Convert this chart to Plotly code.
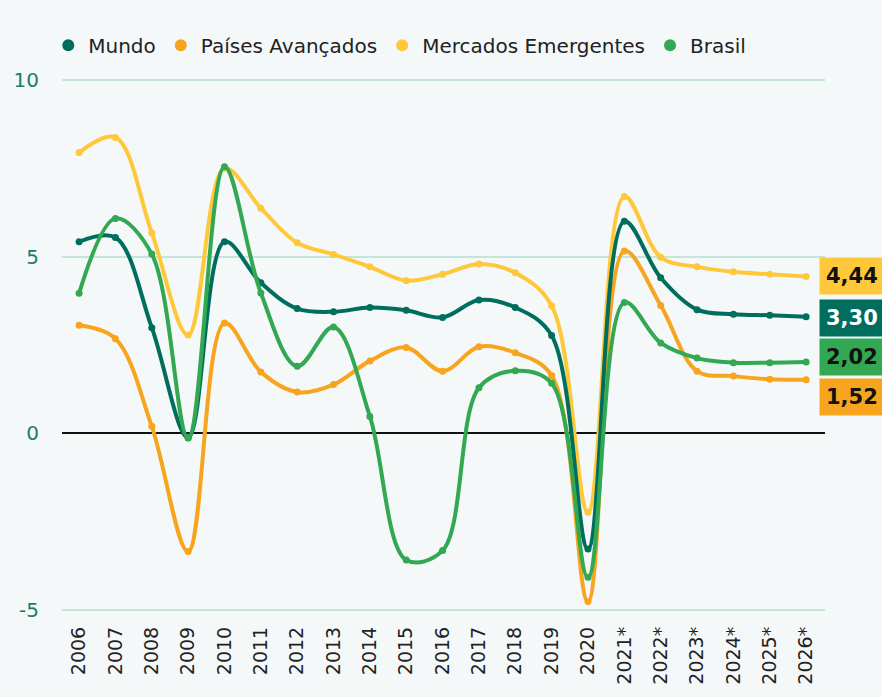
import plotly.graph_objects as go

years = ["2006", "2007", "2008", "2009", "2010", "2011", "2012", "2013", "2014", "2015",
         "2016", "2017", "2018", "2019", "2020", "2021*", "2022*", "2023*", "2024*", "2025*", "2026*"]

mundo = [5.42, 5.54, 2.99, -0.12, 5.42, 4.26, 3.53, 3.44, 3.56, 3.48,
         3.28, 3.77, 3.56, 2.77, -3.27, 6.00, 4.40, 3.50, 3.37, 3.34, 3.30]
paises_avancados = [3.06, 2.68, 0.20, -3.34, 3.12, 1.74, 1.17, 1.38, 2.05, 2.43,
                    1.76, 2.45, 2.28, 1.64, -4.75, 5.16, 3.62, 1.76, 1.62, 1.53, 1.52]
mercados_emergentes = [7.94, 8.37, 5.67, 2.78, 7.50, 6.37, 5.39, 5.06, 4.71, 4.32,
                       4.50, 4.79, 4.54, 3.61, -2.23, 6.70, 4.98, 4.71, 4.57, 4.50, 4.44]
brasil = [3.96, 6.08, 5.07, -0.13, 7.54, 3.97, 1.90, 3.01, 0.48, -3.58,
          -3.31, 1.29, 1.77, 1.42, -4.07, 3.70, 2.56, 2.13, 2.00, 2.00, 2.02]

series_names = ["Mundo", "Países Avançados", "Mercados Emergentes", "Brasil"]
series_values = [mundo, paises_avancados, mercados_emergentes, brasil]
colors = ["#006E5E", "#F7A51E", "#FFC83A", "#33A852"]
end_labels = ["3,30", "1,52", "4,44", "2,02"]
label_y = [3.26, 1.02, 4.44, 2.15]
label_text_colors = ["#FFFFFF", "#111111", "#111111", "#111111"]
yticks = [-5, 0, 5, 10]

FONT = "DejaVu Sans"

fig = go.Figure()

draw_order = [2, 1, 0, 3]
for i in draw_order:
    fig.add_trace(go.Scatter(
        x=years, y=series_values[i], mode="lines+markers",
        line=dict(color=colors[i], width=4, shape="spline", smoothing=1.0),
        marker=dict(color=colors[i], size=7),
        showlegend=False, hoverinfo="skip"))

for i, name in enumerate(series_names):
    fig.add_trace(go.Scatter(
        x=[None], y=[None], mode="markers", name=name,
        marker=dict(color=colors[i], size=15, symbol="circle")))

for i in range(4):
    fig.add_annotation(
        x=years[-1], y=label_y[i], xref="x", yref="y",
        text="<b>%s</b>" % end_labels[i], showarrow=False,
        xanchor="left", yanchor="middle", xshift=13,
        font=dict(family=FONT, size=21, color=label_text_colors[i]),
        bgcolor=colors[i], borderpad=6)

fig.update_layout(
    width=882, height=697,
    paper_bgcolor="#F4F8F9", plot_bgcolor="#F4F8F9",
    margin=dict(l=62, r=57, t=78, b=85),
    font=dict(family=FONT, size=18, color="#222222"),
    legend=dict(orientation="h", x=-0.018, xanchor="left", y=1.025, yanchor="bottom",
                font=dict(family=FONT, size=20, color="#222222"),
                itemsizing="constant", itemwidth=30, tracegroupgap=0,
                bgcolor="rgba(0,0,0,0)"),
    xaxis=dict(type="category", range=[-0.47, 20.52], showgrid=False, zeroline=False,
               showline=False, ticks="", tickangle=-90, ticklabelstandoff=10,
               tickfont=dict(family=FONT, size=19, color="#222222")),
    yaxis=dict(range=[-5.05, 10.05], tickvals=yticks, ticktext=[str(v) for v in yticks],
               showgrid=True, gridcolor="#C6E5D9", gridwidth=2,
               zeroline=True, zerolinecolor="#111111", zerolinewidth=2,
               showline=False, ticks="", ticklabelstandoff=22,
               tickfont=dict(family=FONT, size=20, color="#1C7C6C")),
)

fig.write_html("out.html", config={"displayModeBar": False},
               post_script="document.body.style.margin='0';document.body.style.background='#F4F8F9';")
